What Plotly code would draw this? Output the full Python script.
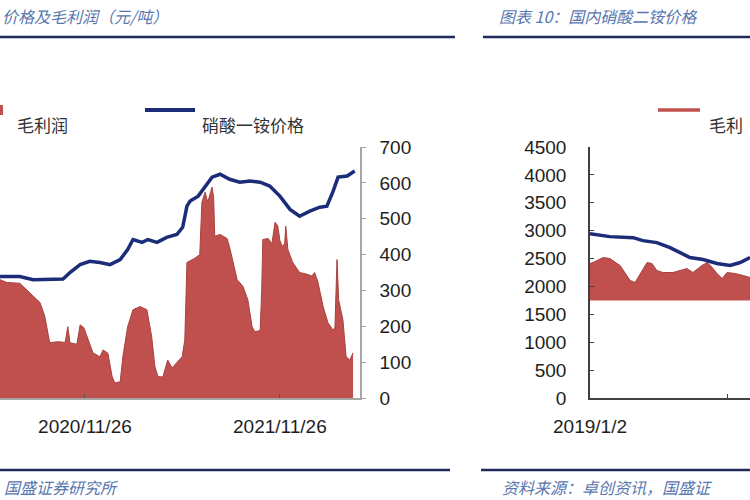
import plotly.graph_objects as go

W, H = 750, 500

# ---- 左图: 硝酸一铵价格及毛利润 (元/吨) ----
profit_dates = [
    "2020-06-20", "2020-07-03", "2020-07-27", "2020-08-15", "2020-09-03", "2020-09-12",
    "2020-09-21", "2020-10-06", "2020-10-20", "2020-10-25", "2020-10-29", "2020-11-11",
    "2020-11-17", "2020-11-24", "2020-12-02", "2020-12-11", "2020-12-24", "2020-12-30",
    "2021-01-08", "2021-01-16", "2021-01-21", "2021-01-31", "2021-02-05", "2021-02-14",
    "2021-02-24", "2021-03-09", "2021-03-22", "2021-03-31", "2021-04-06", "2021-04-12",
    "2021-04-21", "2021-04-30", "2021-05-08", "2021-05-17", "2021-05-27", "2021-06-01",
    "2021-06-05", "2021-06-20", "2021-06-29", "2021-07-03", "2021-07-09", "2021-07-14",
    "2021-07-22", "2021-07-25", "2021-07-27", "2021-08-06", "2021-08-19", "2021-08-24",
    "2021-09-07", "2021-09-18", "2021-09-27", "2021-10-05", "2021-10-10", "2021-10-20",
    "2021-10-23", "2021-10-25", "2021-11-04", "2021-11-11", "2021-11-17", "2021-11-22",
    "2021-11-26", "2021-11-30", "2021-12-05", "2021-12-07", "2021-12-11", "2021-12-20",
    "2022-01-02", "2022-01-16", "2022-01-25", "2022-01-30", "2022-02-05", "2022-02-15",
    "2022-02-24", "2022-03-05", "2022-03-09", "2022-03-13", "2022-03-16", "2022-03-24",
    "2022-03-30", "2022-04-06", "2022-04-12",
]
profit_vals = [
    330, 322, 320, 294, 266, 227, 154, 157, 155, 199, 154, 150, 204, 196, 162, 126,
    115, 134, 125, 59, 42, 45, 115, 199, 246, 255, 246, 171, 87, 59, 59, 106, 84, 98,
    115, 162, 378, 390, 400, 546, 574, 546, 588, 560, 451, 456, 445, 420, 330, 311,
    274, 199, 185, 188, 300, 442, 445, 430, 490, 480, 440, 423, 430, 479, 414, 378,
    350, 345, 340, 350, 325, 255, 210, 190, 195, 386, 274, 218, 115, 106, 126,
]

price_dates = [
    "2020-06-20", "2020-07-27", "2020-08-21", "2020-09-21", "2020-10-16", "2020-10-29",
    "2020-11-17", "2020-12-05", "2020-12-24", "2021-01-12", "2021-01-31", "2021-02-14",
    "2021-02-24", "2021-03-13", "2021-03-24", "2021-04-10", "2021-04-28", "2021-05-17",
    "2021-05-28", "2021-06-05", "2021-06-11", "2021-06-26", "2021-07-09", "2021-07-22",
    "2021-08-06", "2021-08-24", "2021-09-12", "2021-10-01", "2021-10-20", "2021-11-07",
    "2021-11-26", "2021-12-15", "2022-01-02", "2022-01-21", "2022-02-09", "2022-02-22",
    "2022-03-05", "2022-03-15", "2022-04-01", "2022-04-15",
]
price_vals = [
    339, 339, 330, 330, 332, 350, 372, 381, 378, 372, 386, 414, 442, 434, 442, 434,
    448, 456, 476, 535, 549, 563, 591, 616, 624, 610, 602, 605, 602, 591, 563, 526,
    507, 521, 532, 535, 574, 616, 619, 633,
]
left_ticks = ["2020-11-26", "2021-11-26"]
left_ticktext = ["2020/11/26", "2021/11/26"]

# ---- 右图: 国内硝酸二铵价格 ----
dap_price_dates = [
    "2019-01-02", "2019-02-24", "2019-04-27", "2019-05-23", "2019-06-29", "2019-08-03",
    "2019-08-30", "2019-09-25", "2019-10-30", "2019-12-06", "2020-01-10", "2020-02-06",
    "2020-03-03",
]
dap_price = [2946, 2893, 2875, 2821, 2786, 2696, 2607, 2518, 2482, 2411, 2375, 2429, 2518]

dap_margin_dates = [
    "2019-01-02", "2019-01-10", "2019-02-06", "2019-02-24", "2019-03-23", "2019-04-19",
    "2019-05-02", "2019-05-21", "2019-06-03", "2019-06-16", "2019-06-29", "2019-07-15",
    "2019-08-11", "2019-08-30", "2019-09-17", "2019-10-03", "2019-10-27", "2019-11-10",
    "2019-11-23", "2019-12-06", "2019-12-20", "2020-01-02", "2020-01-23", "2020-02-14",
    "2020-03-03",
]
dap_margin = [
    2411, 2429, 2518, 2500, 2375, 2107, 2071, 2286, 2429, 2411, 2286, 2250, 2250,
    2286, 2321, 2250, 2375, 2429, 2343, 2232, 2143, 2250, 2232, 2196, 2161,
]
band_floor = 1750
right_ticks = ["2019-01-02", "2020-01-02"]
right_ticktext = ["2019/1/2", "2020/1/2"]

RED = "#C0504D"
RED_EDGE = "#A8413E"
NAVY = "#1B2C78"
RULE = "#1F2A5C"
TITLE_BLUE = "#5877B0"
TICK_FONT = dict(family="Liberation Sans", size=19, color="#1E1E1E")


def px_x(p):
    return p / W


def px_y(p):
    return 1 - p / H


fig = go.Figure()

# 左图
fig.add_trace(go.Scatter(
    x=profit_dates, y=profit_vals, name="毛利润",
    mode="lines", fill="tozeroy", fillcolor=RED,
    line=dict(color=RED_EDGE, width=1),
    xaxis="x", yaxis="y",
))
fig.add_trace(go.Scatter(
    x=price_dates, y=price_vals, name="硝酸一铵价格",
    mode="lines", line=dict(color=NAVY, width=3.5),
    xaxis="x", yaxis="y",
))

# 右图
fig.add_trace(go.Scatter(
    x=dap_margin_dates, y=[band_floor] * len(dap_margin_dates),
    mode="lines", line=dict(color=RED, width=0), hoverinfo="skip",
    showlegend=False, xaxis="x2", yaxis="y2",
))
fig.add_trace(go.Scatter(
    x=dap_margin_dates, y=dap_margin, name="毛利润",
    mode="lines", fill="tonexty", fillcolor=RED,
    line=dict(color=RED_EDGE, width=1),
    xaxis="x2", yaxis="y2",
))
fig.add_trace(go.Scatter(
    x=dap_price_dates, y=dap_price, name="硝酸二铵价格",
    mode="lines", line=dict(color=NAVY, width=3.5),
    xaxis="x2", yaxis="y2",
))

y_dom = [px_y(398), px_y(147)]
common = dict(showgrid=False, zeroline=False, automargin=False, tickfont=TICK_FONT)

fig.update_layout(
    width=W, height=H,
    margin=dict(l=0, r=0, t=0, b=0, pad=0, autoexpand=False),
    paper_bgcolor="white", plot_bgcolor="white",
    showlegend=False,
    xaxis=dict(
        domain=[0, px_x(360)], anchor="y", type="date",
        range=["2020-06-20", "2022-04-25"],
        tickvals=left_ticks, ticktext=left_ticktext,
        showline=True, linecolor="#A6A6A6", linewidth=2,
        ticks="inside", ticklen=4, tickcolor="#555555",
        ticklabelstandoff=10, **common,
    ),
    yaxis=dict(
        domain=y_dom, anchor="x", side="right",
        range=[0, 700], dtick=100,
        showline=True, linecolor="#A6A6A6", linewidth=1.5,
        ticks="outside", ticklen=4, tickcolor="#A6A6A6",
        ticklabelstandoff=10, **common,
    ),
    xaxis2=dict(
        domain=[px_x(590), 1], anchor="y2", type="date",
        range=["2019-01-02", "2020-03-03"],
        tickvals=right_ticks, ticktext=right_ticktext,
        showline=True, linecolor="#404040", linewidth=1.5,
        ticks="inside", ticklen=4, tickcolor="#404040",
        ticklabelstandoff=10, **common,
    ),
    yaxis2=dict(
        domain=y_dom, anchor="x2", side="left",
        range=[0, 4500], dtick=500,
        showline=True, linecolor="#404040", linewidth=1.5,
        ticks="inside", ticklen=4, tickcolor="#404040",
        ticklabelstandoff=18, **common,
    ),
)

# 标题 / 来源
CJK = "Noto Sans CJK SC"
title_font = dict(family=CJK, size=16, color=TITLE_BLUE, style="italic")
texts = [
    ("价格及毛利润（元/吨）", 0, 16),
    ("图表 10：国内硝酸二铵价格", 497, 16),
    ("国盛证券研究所", 2, 487),
    ("资料来源：卓创资讯，国盛证", 500, 487),
]
for txt, x, y in texts:
    fig.add_annotation(text=txt, x=px_x(x), y=px_y(y), xref="paper", yref="paper",
                       xanchor="left", yanchor="middle", showarrow=False, font=title_font)

# 分隔线
for x0, x1, y in [(0, 455, 37), (483, 750, 37), (0, 450, 470), (481, 750, 470)]:
    fig.add_shape(type="line", xref="paper", yref="paper",
                  x0=px_x(x0), x1=px_x(x1), y0=px_y(y), y1=px_y(y),
                  line=dict(color=RULE, width=2.5))

# 图例
legend_font = dict(family=CJK, size=17, color="#333333")
fig.add_shape(type="rect", xref="paper", yref="paper",
              x0=px_x(-8), x1=px_x(3), y0=px_y(115), y1=px_y(105),
              fillcolor=RED, line=dict(width=0))
fig.add_annotation(text="毛利润", x=px_x(15), y=px_y(110), xref="paper", yref="paper",
                   xanchor="left", showarrow=False, font=legend_font)
fig.add_shape(type="line", xref="paper", yref="paper",
              x0=px_x(145), x1=px_x(195), y0=px_y(110), y1=px_y(110),
              line=dict(color=NAVY, width=4))
fig.add_annotation(text="硝酸一铵价格", x=px_x(200), y=px_y(110), xref="paper", yref="paper",
                   xanchor="left", showarrow=False, font=legend_font)
fig.add_shape(type="line", xref="paper", yref="paper",
              x0=px_x(658), x1=px_x(700), y0=px_y(110), y1=px_y(110),
              line=dict(color=RED, width=3.5))
fig.add_annotation(text="毛利", x=px_x(707), y=px_y(110), xref="paper", yref="paper",
                   xanchor="left", showarrow=False, font=legend_font)

# 页面默认 8px 边距去掉, 让图与窗口对齐; 不显示 modebar
fig.write_html("out.html", config={"displayModeBar": False},
               post_script="document.body.style.margin = '0';")
